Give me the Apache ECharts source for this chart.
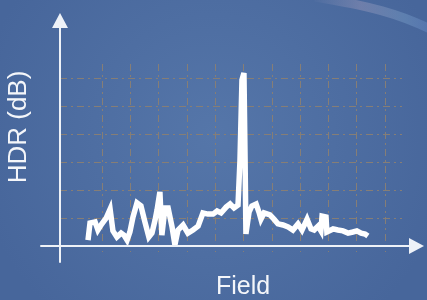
<!DOCTYPE html>
<html>
<head>
<meta charset="utf-8">
<script src="https://cdn.jsdelivr.net/npm/echarts@6/dist/echarts.min.js"></script>
<style>
  html, body { margin: 0; padding: 0; }
  #chart { width: 427px; height: 300px; }
</style>
</head>
<body>
<div id="chart"></div>
<script>
// field position (grid cells from the HDR axis) and HDR level in dB
const fieldX = [0.99, 1.06, 1.24, 1.34, 1.48, 1.63, 1.77, 1.87, 2.01, 2.16, 2.26, 2.37, 2.47, 2.58, 2.72, 2.86,
  3.00, 3.14, 3.25, 3.36, 3.43, 3.53, 3.60, 3.71, 3.82, 3.96, 4.06, 4.17, 4.35, 4.52, 4.70, 4.88,
  5.05, 5.23, 5.41, 5.55, 5.69, 5.87, 6.01, 6.15, 6.29, 6.36, 6.43, 6.50, 6.54, 6.57, 6.68, 6.78,
  6.93, 7.03, 7.10, 7.21, 7.42, 7.56, 7.70, 7.88, 8.06, 8.23, 8.41, 8.55, 8.73, 8.87, 8.98, 9.12,
  9.22, 9.26, 9.40, 9.43, 9.65, 9.82, 10.00, 10.18, 10.35, 10.49, 10.64, 10.78, 10.88];
const hdrDb = [2.1, 8.2, 8.6, 5.7, 7.9, 10.0, 13.2, 5.4, 3.2, 4.6, 3.9, 2.1, 5.0, 10.4, 15.4, 14.3,
  8.6, 3.2, 4.6, 9.3, 12.9, 19.3, 3.9, 13.6, 13.6, 6.8, 0.4, 5.7, 7.5, 4.6, 5.7, 7.1,
  11.8, 11.4, 11.4, 12.5, 11.8, 13.9, 15.0, 13.6, 14.6, 30.7, 59.3, 61.8, 30.7, 4.3, 12.1, 14.3,
  15.0, 12.1, 9.6, 11.8, 11.1, 9.6, 7.9, 7.5, 6.8, 5.7, 7.9, 5.7, 9.6, 6.1, 5.7, 7.1,
  5.4, 10.7, 10.4, 5.0, 6.1, 5.7, 5.4, 4.6, 5.0, 5.4, 4.6, 4.3, 3.6];
const xCells = 10; // vertical grid lines
const yCells = 6;  // horizontal grid lines

// layout (px)
const ox = 60, oy = 246, pxX = 28.3, pxY = 2.8;
const L = 41, R = 416.5, T = 20.5, B = 262;

const pts = fieldX.map((x, i) => [x, hdrDb[i]]);
const gridStyle = { color: '#867e76', width: 1, type: [7, 4, 2, 4] };

const chart = echarts.init(document.getElementById('chart'));
chart.setOption({
  animation: false,
  backgroundColor: {
    type: 'radial', x: 0.5, y: 0.45, r: 0.8,
    colorStops: [{ offset: 0, color: '#5576a9' }, { offset: 1, color: '#47669b' }]
  },
  grid: [
    { left: L, width: R - L, top: T, height: B - T },
    { left: 102, width: 283, top: 64, height: 188 },
    { left: ox, width: 342, top: 78, height: oy - 78 }
  ],
  xAxis: [
    {
      gridIndex: 0, type: 'value', min: (L - ox) / pxX, max: (R - ox) / pxX,
      axisLine: { onZero: true, symbol: ['none', 'triangle'], symbolSize: [16, 15],
        lineStyle: { color: '#eef2f8', width: 2 } },
      axisTick: { show: false }, axisLabel: { show: false }, splitLine: { show: false }, z: 5
    },
    {
      gridIndex: 1, type: 'value', min: 0, max: xCells, interval: 1,
      axisLine: { show: false }, axisTick: { show: false }, axisLabel: { show: false },
      splitLine: { show: true, lineStyle: gridStyle }
    },
    {
      gridIndex: 2, type: 'value', min: 0, max: 1,
      axisLine: { show: false }, axisTick: { show: false }, axisLabel: { show: false },
      splitLine: { show: false }
    }
  ],
  yAxis: [
    {
      gridIndex: 0, type: 'value', min: -(B - oy) / pxY, max: (oy - T) / pxY,
      axisLine: { onZero: true, symbol: ['none', 'triangle'], symbolSize: [16, 15],
        lineStyle: { color: '#eef2f8', width: 2 } },
      axisTick: { show: false }, axisLabel: { show: false }, splitLine: { show: false }, z: 5
    },
    {
      gridIndex: 1, type: 'value', min: 0, max: 1,
      axisLine: { show: false }, axisTick: { show: false }, axisLabel: { show: false },
      splitLine: { show: false }
    },
    {
      gridIndex: 2, type: 'value', min: 0, max: yCells, interval: 1,
      axisLine: { show: false }, axisTick: { show: false }, axisLabel: { show: false },
      splitLine: { show: true, lineStyle: gridStyle }
    }
  ],
  graphic: [
    // faint rainbow sheen in the top-right corner
    {
      type: 'bezierCurve', silent: true, z: -1,
      shape: { x1: 315, y1: -3, cpx1: 370, cpy1: 6, cpx2: 400, cpy2: 14, x2: 432, y2: 30 },
      style: {
        fill: null, lineWidth: 9, opacity: 0.3,
        stroke: {
          type: 'linear', x: 0, y: 0, x2: 1, y2: 0,
          colorStops: [{ offset: 0, color: 'rgba(200,190,210,0)' }, { offset: 0.4, color: '#c4b0c8' },
            { offset: 0.75, color: '#8fb8dc' }, { offset: 1, color: '#6f8fd8' }]
        }
      }
    },
    {
      type: 'text', x: 243, y: 287,
      style: { text: 'Field', fill: '#f4f6fa', font: '25px "Liberation Sans"', align: 'center', verticalAlign: 'middle' }
    },
    {
      type: 'text', x: 19, y: 127, rotation: Math.PI / 2,
      style: { text: 'HDR (dB)', fill: '#f4f6fa', font: '26px "Liberation Sans"', align: 'center', verticalAlign: 'middle' }
    }
  ],
  series: [{
    type: 'line',
    xAxisIndex: 0, yAxisIndex: 0,
    data: pts,
    showSymbol: false,
    z: 4,
    lineStyle: { color: '#ffffff', width: 5.5, join: 'miter', miterLimit: 4 }
  }]
});
</script>
</body>
</html>
